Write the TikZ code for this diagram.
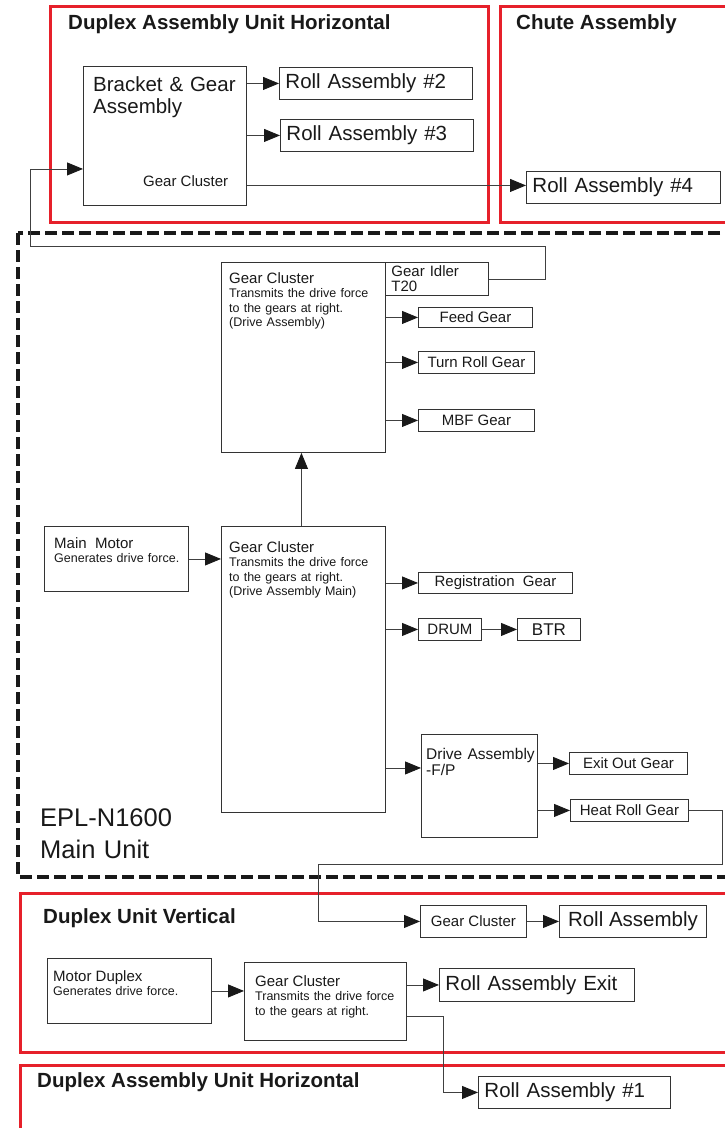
\documentclass[tikz,border=0pt]{standalone}
\usepackage{fontspec}
\setmainfont{Liberation Sans}
\usetikzlibrary{arrows.meta, positioning}
\definecolor{unitred}{HTML}{E6202A}

\begin{document}
\begin{tikzpicture}[x=1pt, y=-1pt,
        unit/.style={draw=unitred, line width=3pt},
        cell/.style={draw=black!80, line width=0.9pt, anchor=north west, inner sep=0pt, text=black!90, font=\fontsize{15}{15}\selectfont},
        rollcell/.style={cell, inner xsep=6pt, align=left, font=\fontsize{20.5}{22}\selectfont},
        txt/.style={anchor=base west, inner sep=0pt, align=left, text=black!90},
        title/.style={txt, font=\bfseries\fontsize{20.5}{22}\selectfont},
        note/.style={txt, font=\fontsize{12.5}{14.5}\selectfont},
        flow/.style={draw=black!75, line width=0.9pt, -{Triangle[length=16pt, width=13pt, color=black!90]}}
      ]
        \useasboundingbox (0,0) rectangle (725,1128);
        \clip (0,0) rectangle (725,1128);

        % top units
        \draw[unit] (50,6) rectangle (488,222);
        \draw[unit] (500,6) rectangle (745,222);
        \node[title] (dauh) at (68,29) {Duplex Assembly Unit Horizontal};
        \node[title] (chute) at (516,29) {Chute Assembly};
        \node[cell, minimum width=163pt, minimum height=139pt] (brk) at (83,66) {};
        \node[txt, font=\fontsize{20.5}{22}\selectfont, text width=150pt] (brktxt) at (93,91) {Bracket \& Gear\\Assembly};
        \node[txt, font=\fontsize{15}{15}\selectfont] (brkgc) at (143,186) {Gear Cluster};
        \node[rollcell, text width=181pt, minimum height=32pt] (ra2) at (279,67) {Roll Assembly \#2};
        \node[rollcell, text width=181pt, minimum height=32pt] (ra3) at (280,119) {Roll Assembly \#3};
        \node[rollcell, text width=182pt, minimum height=32pt] (ra4) at (526,171) {Roll Assembly \#4};

        % main unit
        \draw[black!90, line width=4.5pt, dash pattern=on 12pt off 5pt] (18,233) rectangle (745,877);
        \node[cell, minimum width=164pt, minimum height=190pt] (gcu) at (221,262) {};
        \node[note, text width=150pt] (gcutxt) at (229,283) {{\fontsize{15}{15}\selectfont Gear Cluster}\\Transmits the drive force\\to the gears at right.\\(Drive Assembly)};
        \node[cell, minimum width=103pt, minimum height=33pt, inner xsep=6pt, text width=91pt, align=left] (idler) at (385,262) {Gear Idler\\T20};
        \node[cell, minimum width=114pt, minimum height=20pt] (feed) at (418,307) {Feed Gear};
        \node[cell, minimum width=116pt, minimum height=22pt] (turn) at (418,351) {Turn Roll Gear};
        \node[cell, minimum width=116pt, minimum height=22pt] (mbf) at (418,409) {MBF Gear};

        \node[cell, minimum width=144pt, minimum height=65pt] (motor) at (44,526) {};
        \node[note, text width=135pt] (motortxt) at (54,548) {{\fontsize{15}{15}\selectfont Main\ \ Motor}\\Generates drive force.};
        \node[cell, minimum width=164pt, minimum height=286pt] (gcl) at (221,526) {};
        \node[note, text width=150pt] (gcltxt) at (229,552) {{\fontsize{15}{15}\selectfont Gear Cluster}\\Transmits the drive force\\to the gears at right.\\(Drive Assembly Main)};
        \node[cell, minimum width=154pt, minimum height=21pt] (reg) at (418,572) {Registration\ \ Gear};
        \node[cell, minimum width=63pt, minimum height=22pt] (drum) at (418,618) {DRUM};
        \node[cell, minimum width=63pt, minimum height=22pt, font=\fontsize{17}{17}\selectfont] (btr) at (517,618) {BTR};
        \node[cell, minimum width=116pt, minimum height=103pt] (dfp) at (421,734) {};
        \node[txt, font=\fontsize{15.5}{16}\selectfont, text width=110pt] (dfptxt) at (426,759) {Drive Assembly\\-F/P};
        \node[cell, minimum width=118pt, minimum height=22pt] (exit) at (569,752) {Exit Out Gear};
        \node[cell, minimum width=118pt, minimum height=22pt] (heat) at (570,799) {Heat Roll Gear};
        \node[txt, font=\fontsize{25.5}{32}\selectfont, text width=200pt] (epl) at (40,826) {EPL-N1600\\Main Unit};

        % duplex unit vertical
        \draw[unit] (20,893) rectangle (745,1052);
        \node[title] (duv) at (43,923) {Duplex Unit Vertical};
        \node[cell, minimum width=106pt, minimum height=32pt] (gcd) at (420,905) {Gear Cluster};
        \node[cell, minimum width=147pt, minimum height=32pt, font=\fontsize{20.5}{22}\selectfont] (ra) at (559,905) {Roll Assembly};
        \node[cell, minimum width=164pt, minimum height=65pt] (mdup) at (47,958) {};
        \node[note, text width=150pt] (mduptxt) at (53,981) {{\fontsize{15}{15}\selectfont Motor Duplex}\\Generates drive force.};
        \node[cell, minimum width=162pt, minimum height=78pt] (gcv) at (244,962) {};
        \node[note, text width=145pt] (gcvtxt) at (255,986) {{\fontsize{15}{15}\selectfont Gear Cluster}\\Transmits the drive force\\to the gears at right.};
        \node[rollcell, text width=183pt, minimum height=33pt] (rae) at (439,968) {Roll Assembly Exit};

        % duplex assembly unit horizontal (lower)
        \draw[unit] (20,1065) rectangle (745,1150);
        \node[title] (dauh2) at (37,1087) {Duplex Assembly Unit Horizontal};
        \node[rollcell, text width=180pt, minimum height=32pt] (ra1) at (478,1076) {Roll Assembly \#1};

        % connectors
        \coordinate (ret1) at (545,246);
        \coordinate (ret2) at (30,246);
        \coordinate (drop1) at (722,864);
        \coordinate (drop2) at (318,864);
        \draw[flow] (brk.east |- ra2.west) -- (ra2.west);
        \draw[flow] (brk.east |- ra3.west) -- (ra3.west);
        \draw[flow] ([yshift=2pt]brk.east |- ra4.west) -- ([yshift=2pt]ra4.west);
        \draw[flow] (idler.east) -| (ret1) -- (ret2) |- ([yshift=-33pt]brk.west);
        \draw[flow] ([xshift=-2pt]gcl.north) -- ([xshift=-2pt]gcu.south);
        \draw[flow] (gcu.east |- feed.west) -- (feed.west);
        \draw[flow] (gcu.east |- turn.west) -- (turn.west);
        \draw[flow] (gcu.east |- mbf.west) -- (mbf.west);
        \draw[flow] (motor.east) -- (motor.east -| gcl.west);
        \draw[flow] (gcl.east |- reg.west) -- (reg.west);
        \draw[flow] (gcl.east |- drum.west) -- (drum.west);
        \draw[flow] (drum) -- (btr);
        \draw[flow] ([yshift=18pt]dfp.west -| gcl.east) -- ([yshift=18pt]dfp.west);
        \draw[flow] (dfp.east |- exit.west) -- (exit.west);
        \draw[flow] (dfp.east |- heat.west) -- (heat.west);
        \draw[flow] (heat.east) -| (drop1) -- (drop2) |- (gcd.west);
        \draw[flow] (gcd) -- (ra);
        \draw[flow] (mdup.east) -- (mdup.east -| gcv.west);
        \draw[flow] (gcv.east |- rae.west) -- (rae.west);
        \draw[flow] ([yshift=-15pt]gcv.east) -- ++(37,0) |- (ra1.west);
      \end{tikzpicture}
\end{document}
